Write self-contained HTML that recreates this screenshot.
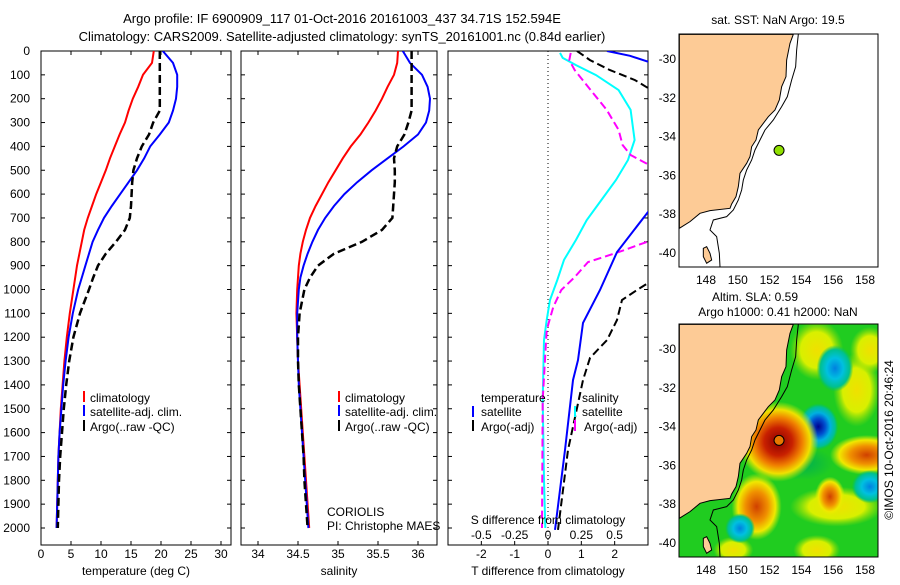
<!DOCTYPE html>
<html><head><meta charset="utf-8"><style>
body{margin:0;background:#fff}
svg text{font-family:"Liberation Sans",sans-serif;fill:#000}
</style></head><body>
<svg id="c" width="900" height="580" xmlns="http://www.w3.org/2000/svg">
<defs>
<clipPath id="cp1"><rect x="41" y="51" width="190" height="494"/></clipPath>
<clipPath id="cp2"><rect x="241" y="51" width="196" height="494"/></clipPath>
<clipPath id="cp3"><rect x="448" y="51" width="200" height="494"/></clipPath>
<clipPath id="cpm"><rect x="679" y="324" width="199" height="233"/></clipPath>
<radialGradient id="gRed"><stop offset="0" stop-color="#8a0000"/><stop offset="0.35" stop-color="#c82000"/><stop offset="0.6" stop-color="#f08000"/><stop offset="0.8" stop-color="#f0e000"/><stop offset="1" stop-color="#d8f000" stop-opacity="0"/></radialGradient>
<radialGradient id="gOr"><stop offset="0" stop-color="#d04000"/><stop offset="0.45" stop-color="#f09000"/><stop offset="0.75" stop-color="#f0e800"/><stop offset="1" stop-color="#d8f000" stop-opacity="0"/></radialGradient>
<radialGradient id="gYel"><stop offset="0" stop-color="#f0e000"/><stop offset="0.6" stop-color="#d8f000"/><stop offset="1" stop-color="#a0e000" stop-opacity="0"/></radialGradient>
<radialGradient id="gBlue"><stop offset="0" stop-color="#000090"/><stop offset="0.35" stop-color="#0050d0"/><stop offset="0.6" stop-color="#00b0e0"/><stop offset="0.85" stop-color="#00c090"/><stop offset="1" stop-color="#00c060" stop-opacity="0"/></radialGradient>
<radialGradient id="gLB"><stop offset="0" stop-color="#0080e0"/><stop offset="0.45" stop-color="#00c0e0"/><stop offset="0.8" stop-color="#00c090"/><stop offset="1" stop-color="#00c060" stop-opacity="0"/></radialGradient>
<radialGradient id="gDG"><stop offset="0" stop-color="#00b050"/><stop offset="1" stop-color="#00b050" stop-opacity="0"/></radialGradient>
</defs>

<text x="342" y="23" font-size="13" text-anchor="middle">Argo profile: IF 6900909_117 01-Oct-2016 20161003_437 34.71S 152.594E</text>
<text x="342" y="41" font-size="13" text-anchor="middle">Climatology: CARS2009. Satellite-adjusted climatology: synTS_20161001.nc (0.84d earlier)</text>

<g id="axes"></g>
<g id="series"></g>

<g font-size="12">
<rect x="83" y="391" width="2" height="11" fill="#f00"/><text x="90" y="402">climatology</text>
<rect x="83" y="405" width="2" height="11" fill="#00f"/><text x="90" y="416">satellite-adj. clim.</text>
<rect x="83" y="420" width="2" height="11" fill="#000"/><text x="90" y="431">Argo(..raw -QC)</text>
</g>
<g font-size="12">
<rect x="338" y="391" width="2" height="11" fill="#f00"/><text x="345" y="402">climatology</text>
<rect x="338" y="405" width="2" height="11" fill="#00f"/><text x="345" y="416">satellite-adj. clim.</text>
<rect x="338" y="420" width="2" height="11" fill="#000"/><text x="345" y="431">Argo(..raw -QC)</text>
</g>
<g font-size="12">
<text x="481" y="402">temperature</text><text x="582" y="402">salinity</text>
<rect x="472" y="406" width="2" height="11" fill="#00f"/><text x="481" y="416">satellite</text>
<rect x="472" y="420" width="2" height="11" fill="#000"/><text x="481" y="431">Argo(-adj)</text>
<rect x="574" y="406" width="2" height="11" fill="#0ff"/><text x="582" y="416">satellite</text>
<rect x="574" y="420" width="2" height="11" fill="#f0f"/><text x="584" y="431">Argo(-adj)</text>
</g>
<text x="327" y="516" font-size="12">CORIOLIS</text>
<text x="327" y="530" font-size="12">PI: Christophe MAES</text>
<text x="548" y="524" font-size="12" text-anchor="middle">S difference from climatology</text>
<text x="136" y="575" font-size="12" text-anchor="middle">temperature (deg C)</text>
<text x="339" y="575" font-size="12" text-anchor="middle">salinity</text>
<text x="548" y="575" font-size="12" text-anchor="middle">T difference from climatology</text>

<text x="778" y="24" font-size="12" text-anchor="middle">sat. SST: NaN Argo: 19.5</text>
<text x="755" y="301" font-size="12" text-anchor="middle">Altim. SLA: 0.59</text>
<text x="778" y="316" font-size="12" text-anchor="middle">Argo h1000: 0.41 h2000: NaN</text>

<g>
<rect x="679" y="34" width="199" height="233" fill="#fff"/>
<g transform="translate(650,0) scale(0.3333)">
<polygon fill="#fdcb96" stroke="#000" stroke-width="3" points="88,103 430,103 420,130 410,180 408,230 395,260 388,300 375,330 355,350 340,370 325,390 318,420 305,440 300,470 290,490 270,520 265,560 258,590 245,612 240,625 180,632 150,640 120,665 88,685"/>
<polygon fill="#fdcb96" stroke="#000" stroke-width="3" points="160,745 170,740 180,760 185,780 170,790 160,770"/>
<polyline fill="none" stroke="#000" stroke-width="3" points="445,103 440,150 437,200 425,240 412,290 395,320 370,360 345,390 330,420 315,450 305,480 290,510 280,540 275,570 265,600 250,630 230,650 190,660 180,690 200,710 208,760 210,800"/>
</g>
<rect x="679" y="34" width="199" height="233" fill="none" stroke="#000"/>
</g>

<g>
<g clip-path="url(#cpm)">
<rect x="679" y="324" width="199" height="233" fill="#20cc20"/>
<g transform="translate(650,290) scale(0.3333)">
<ellipse cx="500" cy="180" rx="80" ry="90" fill="url(#gYel)"/>
<ellipse cx="620" cy="300" rx="70" ry="110" fill="url(#gYel)"/>
<ellipse cx="660" cy="180" rx="60" ry="70" fill="url(#gYel)"/>
<ellipse cx="460" cy="520" rx="90" ry="50" fill="url(#gDG)"/>
<ellipse cx="560" cy="650" rx="140" ry="60" fill="url(#gYel)"/>
<ellipse cx="500" cy="780" rx="70" ry="45" fill="url(#gYel)"/>
<ellipse cx="250" cy="780" rx="60" ry="40" fill="url(#gYel)"/>
<ellipse cx="555" cy="235" rx="55" ry="70" fill="url(#gLB)"/>
<ellipse cx="505" cy="410" rx="60" ry="70" fill="url(#gBlue)"/>
<ellipse cx="385" cy="455" rx="120" ry="120" fill="url(#gRed)"/>
<ellipse cx="320" cy="650" rx="75" ry="100" fill="url(#gOr)"/>
<ellipse cx="650" cy="495" rx="110" ry="60" fill="url(#gOr)"/>
<ellipse cx="540" cy="620" rx="45" ry="60" fill="url(#gOr)"/>
<ellipse cx="660" cy="590" rx="55" ry="50" fill="url(#gLB)"/>
<ellipse cx="270" cy="715" rx="45" ry="45" fill="url(#gLB)"/>
<polygon fill="#fdcb96" stroke="#000" stroke-width="3" points="88,103 430,103 420,130 410,180 408,230 395,260 388,300 375,330 355,350 340,370 325,390 318,420 305,440 300,470 290,490 270,520 265,560 258,590 245,612 240,625 180,632 150,640 120,665 88,685"/>
<polygon fill="#fdcb96" stroke="#000" stroke-width="3" points="160,745 170,740 180,760 185,780 170,790 160,770"/>
<polyline fill="none" stroke="#000" stroke-width="3" points="445,103 440,150 437,200 425,240 412,290 395,320 370,360 345,390 330,420 315,450 305,480 290,510 280,540 275,570 265,600 250,630 230,650 190,660 180,690 200,710 208,760 210,800"/>
</g>
</g>
<rect x="679" y="324" width="199" height="233" fill="none" stroke="#000"/>
</g>
<text transform="translate(893,440) rotate(-90)" font-size="12" text-anchor="middle">©IMOS 10-Oct-2016 20:46:24</text>
<g id="markers"></g>

<script>
// ---- data ----
const depths = [0,50,100,150,200,250,300,350,400,450,500,550,600,650,700,750,800,850,900,950,1000,1100,1200,1300,1400,1500,1600,1700,1800,1900,2000];
const tempClim = [18.8,18.5,17.0,16.2,15.3,14.6,14.0,13.1,12.3,11.5,10.8,10.0,9.2,8.5,7.8,7.2,6.8,6.4,6.0,5.7,5.4,4.8,4.3,3.9,3.6,3.3,3.1,2.9,2.8,2.7,2.6];
const tempSat = [20.3,22.0,22.7,22.7,22.5,22.0,21.3,19.8,18.2,17.2,16.0,14.6,13.2,11.8,10.5,9.5,8.6,8.0,7.4,6.8,6.2,5.3,4.6,4.1,3.7,3.4,3.1,2.9,2.8,2.7,2.6];
const tempArgo = [19.8,19.8,19.8,19.8,19.8,19.8,18.7,18.0,16.8,16.0,15.4,15.2,15.1,15.0,14.8,14.0,12.5,10.8,9.5,8.7,8.0,6.5,5.4,4.7,4.2,3.8,3.5,3.2,3.0,2.9,2.8];
const salClim = [35.75,35.74,35.70,35.62,35.55,35.47,35.38,35.28,35.16,35.06,34.97,34.88,34.80,34.72,34.65,34.60,34.56,34.53,34.51,34.50,34.49,34.48,34.49,34.50,34.52,34.54,34.56,34.58,34.60,34.62,34.64];
const salSat = [35.81,35.90,36.05,36.12,36.15,36.14,36.10,36.00,35.82,35.62,35.42,35.24,35.08,34.95,34.84,34.75,34.68,34.62,34.57,34.53,34.51,34.49,34.49,34.50,34.51,34.53,34.55,34.57,34.59,34.61,34.63];
const salArgo = [35.92,35.92,35.92,35.92,35.92,35.92,35.88,35.83,35.74,35.70,35.71,35.71,35.70,35.69,35.68,35.55,35.30,34.95,34.75,34.65,34.58,34.52,34.50,34.50,34.51,34.53,34.55,34.57,34.58,34.60,34.62];
const dDepthTS = [0,20,45,100,200,300,400,500,600,675,843,1002,1140,1296,1380,1673,2008];
const dTSat = [1.77,2.46,3.0,3.6,3.8,3.8,3.8,3.7,3.5,3.0,2.07,1.56,1.05,0.9,0.75,0.51,0.21];
const dDepthTA = [0,38,80,122,155,300,500,700,900,973,1002,1044,1128,1212,1287,1380,1673,2008];
const dTArgo = [0.87,1.26,1.86,2.61,3.0,3.6,3.6,3.6,3.4,3.0,2.67,2.22,2.07,1.77,1.26,1.05,0.6,0.3];
const dDepthSS = [8,29,59,101,164,247,373,457,541,625,709,792,876,960,1044,1128,1212,1463,1799,2000];
const dSSat = [0.09,0.11,0.21,0.36,0.53,0.62,0.65,0.60,0.51,0.40,0.29,0.21,0.12,0.07,0.015,-0.01,-0.03,-0.04,-0.03,-0.02];
const dDepthSA = [8,38,80,164,247,331,394,436,478,600,700,801,843,885,948,1002,1073,1170,1463,2000];
const dSArgo = [0.17,0.16,0.20,0.32,0.44,0.53,0.56,0.62,0.76,1.0,1.0,0.74,0.53,0.30,0.20,0.10,0.04,-0.01,-0.04,-0.045];
const depthTicks = [0,100,200,300,400,500,600,700,800,900,1000,1100,1200,1300,1400,1500,1600,1700,1800,1900,2000];
const tempTicks = [0,5,10,15,20,25,30];
const salTicks = [34,34.5,35,35.5,36];
const tdiffTicks = [-2,-1,0,1,2];
const sdiffTicks = [-0.5,-0.25,0,0.25,0.5];
const sdiffLabels = ["-0.5","-0.25","0","0.25","0.5"];
const argoLon = 152.594, argoLat = -34.71;
const latTicks = [-30,-32,-34,-36,-38,-40];
const lonTicks = [148,150,152,154,156,158];

// ---- scales ----
const yD = d => 51 + d*0.2385;
const xT = t => 41 + 6.0*t;
const xS = s => 258 + 80*(s-34);
const xDT = v => 548 + 33.33*v;
const xDS = v => 548 + 133.3*v;
const mX = lon => 706 + (lon-148)*15.9;
const mY = lat => 59 + (-30-lat)*19.4;

const NS='http://www.w3.org/2000/svg';
const axesG=document.getElementById('axes'), serG=document.getElementById('series'), mkG=document.getElementById('markers');
function mk(tag,attrs,parent){const e=document.createElementNS(NS,tag);for(const k in attrs)e.setAttribute(k,attrs[k]);parent.appendChild(e);return e;}

const panels=[[41,231,'temperature-panel'],[241,437,'salinity-panel'],[448,648,'difference-panel']];
panels.forEach(p=>{
  const r=mk('rect',{x:p[0],y:51,width:p[1]-p[0],height:494,fill:'none',stroke:'#000'},axesG);
  
  
  depthTicks.forEach(d=>{
    mk('line',{x1:p[0],x2:p[0]+4,y1:yD(d),y2:yD(d),stroke:'#000'},axesG);
    mk('line',{x1:p[1],x2:p[1]-4,y1:yD(d),y2:yD(d),stroke:'#000'},axesG);
  });
});
depthTicks.forEach(d=>{
  const t=mk('text',{x:30,y:yD(d)+4,'font-size':12,'text-anchor':'end'},axesG);
  t.textContent=d;
  
  
});
function xticks(vals,labels,fx,ylab,top){
  vals.forEach((v,i)=>{
    const x=fx(v);
    mk('line',{x1:x,x2:x,y1:545,y2:541,stroke:'#000'},axesG);
    if(top) mk('line',{x1:x,x2:x,y1:51,y2:55,stroke:'#000'},axesG);
    const t=mk('text',{x:x,y:ylab,'font-size':12,'text-anchor':'middle'},axesG);
    t.textContent=labels[i];
    
    
  });
}
xticks(tempTicks,tempTicks,xT,558,true);
xticks(salTicks,salTicks,xS,558,true);
xticks(tdiffTicks,tdiffTicks,xDT,558,false);
sdiffTicks.forEach((v,i)=>{
  const t=mk('text',{x:xDS(v),y:539,'font-size':12,'text-anchor':'middle'},axesG);
  t.textContent=sdiffLabels[i];
  
  
});
const zl=mk('line',{x1:xDT(0),x2:xDT(0),y1:51,y2:545,stroke:'#000','stroke-dasharray':'1,3'},axesG);



function line(ds,vs,fx,color,dash,clip,name,w){
  const pts=ds.map((d,i)=>fx(vs[i]).toFixed(1)+','+yD(d).toFixed(1)).join(' ');
  const a={points:pts,fill:'none',stroke:color,'stroke-width':w||2,'clip-path':'url(#'+clip+')'};
  if(dash)a['stroke-dasharray']=dash;
  const e=mk('polyline',a,serG);
  
  
}
line(depths,tempClim,xT,'#f00',null,'cp1','temp-climatology-line');
line(depths,tempSat,xT,'#00f',null,'cp1','temp-satellite-line');
line(depths,tempArgo,xT,'#000','8,4','cp1','temp-argo-line',2.5);
line(depths,salClim,xS,'#f00',null,'cp2','sal-climatology-line');
line(depths,salSat,xS,'#00f',null,'cp2','sal-satellite-line');
line(depths,salArgo,xS,'#000','8,4','cp2','sal-argo-line',2.5);
line(dDepthSS,dSSat,xDS,'#0ff',null,'cp3','sdiff-satellite-line');
line(dDepthSA,dSArgo,xDS,'#f0f','8,4','cp3','sdiff-argo-line');
line(dDepthTS,dTSat,xDT,'#00f',null,'cp3','tdiff-satellite-line');
line(dDepthTA,dTArgo,xDT,'#000','8,4','cp3','tdiff-argo-line');

[0,290].forEach((off,mi)=>{
  latTicks.forEach(l=>{
    const y=mY(l)+off;
    mk('line',{x1:679,x2:683,y1:y,y2:y,stroke:'#000'},axesG);
    mk('line',{x1:878,x2:874,y1:y,y2:y,stroke:'#000'},axesG);
    const t=mk('text',{x:676,y:y+4,'font-size':12,'text-anchor':'end'},axesG);
    t.textContent=l;
    
    
  });
  lonTicks.forEach(l=>{
    const x=mX(l);
    mk('line',{x1:x,x2:x,y1:34+off,y2:38+off,stroke:'#000'},axesG);
    mk('line',{x1:x,x2:x,y1:267+off,y2:263+off,stroke:'#000'},axesG);
    const t=mk('text',{x:x,y:284+off,'font-size':12,'text-anchor':'middle'},axesG);
    t.textContent=l;
    
    
  });
  const c=mk('circle',{cx:mX(argoLon),cy:mY(argoLat)+off,r:5,fill:mi?'#e87800':'#90e000',stroke:'#000'},mkG);
  
  
});
</script>
</svg>
</body></html>
